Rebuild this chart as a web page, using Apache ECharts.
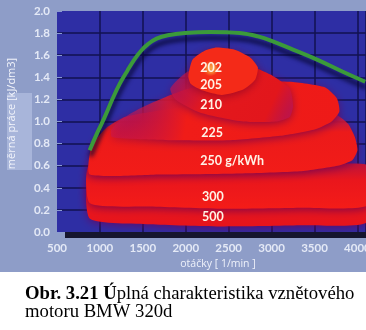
<!DOCTYPE html>
<html>
<head>
<meta charset="utf-8">
<script src="https://cdn.jsdelivr.net/npm/echarts@6/dist/echarts.min.js"></script>
<style>
  html, body { margin: 0; padding: 0; background: #ffffff; }
  #wrap { position: relative; width: 366px; height: 330px;
          background: linear-gradient(#8e9dc8 0, #8e9dc8 272px, #ffffff 272px); }
  #c { width: 366px; height: 330px; }
</style>
</head>
<body>
<div id="wrap"><div id="c"></div></div>
<script>
// Full-load curve: specific work [kJ/dm3] against engine speed [1/min]
const fullLoadRpm  = [880, 970, 1050, 1150, 1230, 1320, 1400, 1480, 1560, 1660, 1790, 1990, 2280, 2630, 2840, 3000, 3250, 3530, 3830, 4090];
const fullLoadWork = [0.74, 0.90, 1.03, 1.21, 1.34, 1.46, 1.56, 1.64, 1.70, 1.75, 1.78, 1.80, 1.81, 1.80, 1.77, 1.73, 1.65, 1.56, 1.45, 1.36];

// Specific fuel consumption islands [g/kWh], outlines as [rpm, kJ/dm3]
const bsfcLevels = [500, 300, 250, 225, 210, 205, 202];
const bsfcLabels = ['500', '300', '250 g/kWh', '225', '210', '205', '202'];
const outline500 = [[884,0.47],[2170,0.49],[3330,0.52],[4120,0.54],[4120,0.09],[3330,0.06],[2400,0.05],[1580,0.07],[884,0.12]];
const outline300 = [[884,0.61],[2170,0.62],[3330,0.63],[3800,0.62],[4120,0.60],[4120,0.24],[3330,0.22],[2400,0.21],[1580,0.23],[884,0.26]];
const outline250 = [[884,0.52],[884,0.72],[950,0.83],[1070,0.94],[1290,1.04],[1700,1.10],[2400,1.16],[3210,1.17],[3510,1.13],[3740,1.07],[3890,0.98],[3970,0.86],[4000,0.74],[3940,0.65],[3770,0.60],[3330,0.55],[2630,0.53],[1700,0.52]];
const outline225 = [[1140,0.86],[1130,0.92],[1230,1.01],[1470,1.12],[1760,1.22],[2050,1.30],[2520,1.36],[3210,1.36],[3620,1.31],[3760,1.21],[3790,1.09],[3700,1.00],[3510,0.93],[3100,0.87],[2520,0.83],[1930,0.83],[1470,0.84]];
const outline210 = [[1820,1.30],[2020,1.45],[2340,1.52],[2780,1.49],[3020,1.41],[3210,1.30],[3250,1.14],[3210,1.04],[3060,1.00],[2670,1.00],[2170,1.08],[1880,1.20]];
const outline205 = [[2030,1.41],[2080,1.56],[2220,1.64],[2360,1.67],[2570,1.65],[2750,1.58],[2840,1.49],[2810,1.38],[2670,1.29],[2420,1.24],[2200,1.28],[2060,1.34]];
const outline202 = [[2200,1.48],[2240,1.54],[2290,1.55],[2360,1.54],[2390,1.48],[2350,1.43],[2290,1.41],[2220,1.43]];
const bsfcOutlines = [outline500, outline300, outline250, outline225, outline210, outline205, outline202];
const bsfcLabelAt = [[2190,0.14],[2190,0.32],[2170,0.64],[2180,0.90],[2170,1.15],[2170,1.33],[2170,1.48]];

const LG = echarts.graphic.LinearGradient;
const RG = echarts.graphic.RadialGradient;

// fill and edge glow of each island, outermost first
const islandLook = [
  { fill: new LG(0,0,0,1,[{offset:0,color:'#c8143a'},{offset:0.55,color:'#ea161c'},{offset:1,color:'#e6141c'}]), glow: 'rgba(110,0,90,0.75)' },
  { fill: new LG(0,0,0,1,[{offset:0,color:'#b8123e'},{offset:0.4,color:'#ea161c'},{offset:1,color:'#f41c18'}]), glow: 'rgba(110,0,80,0.8)' },
  { fill: new LG(0,0,0,1,[{offset:0,color:'rgba(190,20,90,0.45)'},{offset:0.4,color:'#ec1a1a'},{offset:1,color:'#f21c18'}]), glow: 'rgba(110,0,80,0.8)' },
  { fill: new LG(0,0,1,0.6,[{offset:0,color:'rgba(190,20,100,0.35)'},{offset:0.35,color:'#f01c18'},{offset:1,color:'#ee1a18'}]), glow: 'rgba(110,0,80,0.75)' },
  { fill: new LG(0,0,1,1,[{offset:0,color:'rgba(180,20,100,0.55)'},{offset:0.35,color:'#e4181c'},{offset:0.8,color:'#e2161c'},{offset:1,color:'rgba(180,20,90,0.85)'}]), glow: 'rgba(110,0,80,0.7)' },
  { fill: '#f42a18', glow: 'rgba(120,0,40,0.6)' },
  { fill: new RG(0.5,0.5,0.6,[{offset:0,color:'#f8a848'},{offset:0.5,color:'#f67a30'},{offset:1,color:'rgba(244,42,24,0)'}]), glow: 'rgba(0,0,0,0)' }
];

const chart = echarts.init(document.getElementById('c'), null, { renderer: 'canvas' });

chart.setOption({
  animation: false,
  backgroundColor: 'transparent',
  title: {
    left: 25, top: 285, padding: 0,
    text: '{b|Obr. 3.21 Ú}{n|plná charakteristika vznětového}\n{n|motoru BMW 320d}',
    textStyle: {
      rich: {
        b: { fontFamily: 'Liberation Serif', fontWeight: 'bold', fontSize: 18.7, color: '#000', lineHeight: 18 },
        n: { fontFamily: 'Liberation Serif', fontWeight: 'normal', fontSize: 18.7, color: '#000', lineHeight: 18 }
      }
    }
  },
  graphic: [
    { type: 'rect', z: -1, silent: true, shape: { x: 7, y: 93, width: 25, height: 77 }, style: { fill: '#a8b5da' } },
    { type: 'rect', z: 3, silent: true, shape: { x: 65, y: 232, width: 301, height: 6 }, style: { fill: '#15152e' } }
  ],
  grid: {
    left: 57, right: 0, top: 11, bottom: 98,
    show: true, backgroundColor: '#2e2ea4', borderWidth: 0,
    outerBoundsMode: 'none'
  },
  xAxis: {
    type: 'value', min: 500, max: 4100, interval: 500,
    name: 'otáčky [ 1/min ]', nameLocation: 'middle', nameGap: 26,
    nameTextStyle: { color: '#eef1fa', fontSize: 10.5, fontFamily: 'Open Sans', padding: [0, 0, 0, 13] },
    axisLine: { show: false },
    axisTick: { show: false },
    axisLabel: { color: '#e4e9f6', fontSize: 11.5, fontWeight: 'bold', fontFamily: 'Lato', margin: 10,
                 formatter: v => String(v) },
    splitLine: { show: true, showMinLine: false, lineStyle: { color: '#121250', width: 1.5 } }
  },
  yAxis: {
    type: 'value', min: 0, max: 2, interval: 0.2,
    name: 'měrná práce [kJ/dm3]', nameLocation: 'middle', nameGap: 40,
    nameTextStyle: { color: '#f2f4fb', fontSize: 11, fontFamily: 'Open Sans', padding: [0, 0, 0, 16] },
    axisLine: { show: false },
    axisTick: { show: true, inside: true, length: 5, lineStyle: { color: '#8a9ad2', width: 1 } },
    axisLabel: {
      color: '#e4e9f6', fontSize: 11.5, fontWeight: 'bold', fontFamily: 'Lato', margin: 7,
      padding: [0, 0, 8, 0],
      formatter: v => v.toFixed(1)
    },
    splitLine: { show: true, showMinLine: false, showMaxLine: false, lineStyle: { color: '#121250', width: 1.5 } }
  },
  series: [
    {
      type: 'custom',
      clip: true,
      z: 2,
      data: bsfcLevels.map((lv, i) => [i, lv]),
      renderItem: function (params, api) {
        const i = params.dataIndex;
        const look = islandLook[i];
        const pts = bsfcOutlines[i].map(p => api.coord(p));
        const at = api.coord(bsfcLabelAt[i]);
        return {
          type: 'group',
          children: [
            {
              type: 'polygon',
              shape: { points: pts, smooth: 0.2 },
              style: { fill: look.fill, shadowBlur: 9, shadowColor: look.glow, shadowOffsetY: 2 }
            },
            {
              type: 'text', z2: 60,
              style: {
                text: bsfcLabels[i], x: at[0], y: at[1],
                fill: '#fff2e6', font: 'bold 12.5px Lato',
                align: 'left', verticalAlign: 'middle'
              }
            }
          ]
        };
      }
    },
    {
      type: 'line',
      z: 5,
      data: fullLoadRpm.map((r, i) => [r, fullLoadWork[i]]),
      smooth: 0.4,
      symbol: 'none',
      lineStyle: {
        color: '#3b9a3a', width: 4,
        shadowColor: 'rgba(6,6,50,0.85)', shadowBlur: 4, shadowOffsetX: 1, shadowOffsetY: 6
      }
    }
  ]
});
</script>
</body>
</html>
